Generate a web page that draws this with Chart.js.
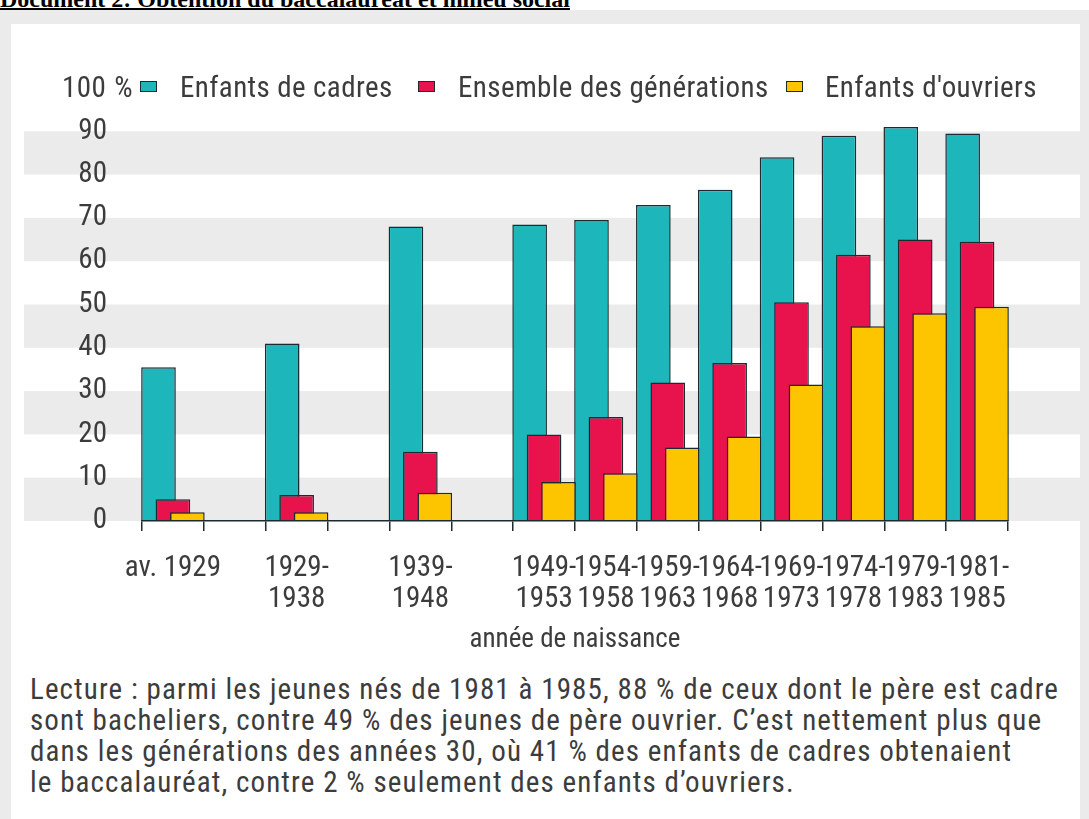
<!DOCTYPE html>
<html lang="fr">
<head>
<meta charset="utf-8">
<title>Obtention du baccalauréat et milieu social</title>
<script src="https://cdn.jsdelivr.net/npm/chart.js@4.4.1/dist/chart.umd.min.js"></script>
<style>
  html, body { margin: 0; padding: 0; background: #fff; }
  body { width: 1089px; height: 819px; position: relative; overflow: hidden;
         font-family: 'Liberation Sans Narrow', 'Roboto Condensed', 'DejaVu Sans Condensed', sans-serif; color: #3c3c3c; }
  #doc-title { position: absolute; left: 0; top: -13px; margin: 0; font: bold 24px/24px 'Liberation Serif', 'Times New Roman', serif;
               color: #000; text-decoration: underline; text-decoration-thickness: 2px; white-space: nowrap; }
  #frame { position: absolute; left: 0; top: 10px; width: 1089px; height: 809px; background: #ebebeb; }
  #panel { position: absolute; left: 11px; top: 24px; width: 1069px; height: 795px; background: #fff; }
  #chart-wrap { position: absolute; left: 0; top: 0; width: 1089px; height: 655px; }
  .lg { position: absolute; top: 70px; height: 34px; line-height: 34px; font-size: 29px; letter-spacing: 0.4px; white-space: nowrap; }
  .box { position: absolute; top: 81px; width: 15px; height: 9px; border: 1.5px solid #1d2b30; }
  #note { position: absolute; left: 30px; top: 674px; margin: 0; font-size: 29px; line-height: 31px;
          letter-spacing: 1.1px; white-space: nowrap; }
</style>
</head>
<body>
<p id="doc-title">Document 2: Obtention du baccalauréat et milieu social</p>
<div id="frame"></div>
<div id="panel"></div>
<div id="chart-wrap"><canvas id="chart"></canvas></div>
<div id="legend"></div>
<p id="note">Lecture : parmi les jeunes nés de 1981 à 1985, 88 % de ceux dont le père est cadre<br>sont bacheliers, contre 49 % des jeunes de père ouvrier. C’est nettement plus que<br>dans les générations des années 30, où 41 % des enfants de cadres obtenaient<br>le baccalauréat, contre 2 % seulement des enfants d’ouvriers.</p>
<script>
// data
const periods = ['av. 1929', '1929-1938', '1939-1948', '1949-1953', '1954-1958', '1959-1963',
                 '1964-1968', '1969-1973', '1974-1978', '1979-1983', '1981-1985'];
const cadres   = [35.5, 41, 68, 68.5, 69.5, 73, 76.5, 84, 89, 91, 89.5];
const ensemble = [5, 6, 16, 20, 24, 32, 36.5, 50.5, 61.5, 65, 64.5];
const ouvriers = [2, 2, 6.5, 9, 11, 17, 19.5, 31.5, 45, 48, 49.5];
// decades take two slots on the axis, five-year groups one
const slotSpan = [2, 2, 2, 1, 1, 1, 1, 1, 1, 1, 1];
const seriesNames = ['Enfants de cadres', 'Ensemble des générations', "Enfants d'ouvriers"];
const seriesColors = ['#1db6bb', '#e8134c', '#fdc500'];
const yMax = 100;
const yStep = 10;

const FONT = "'Liberation Sans Narrow', 'Roboto Condensed', 'DejaVu Sans Condensed', sans-serif";
const INK = '#3c3c3c';
const EDGE = '#1d2b30';

// spread the groups over the axis slots
const slotLabels = [];
const slotIndex = [];
periods.forEach((p, i) => {
  slotIndex.push(slotLabels.length);
  const cut = p.indexOf('-');
  slotLabels.push(cut > 0 ? [p.slice(0, cut + 1), p.slice(cut + 1)] : p);
  for (let k = 1; k < slotSpan[i]; k++) slotLabels.push('');
});
function toSlots(values) {
  const out = new Array(slotLabels.length).fill(null);
  values.forEach((v, i) => { out[slotIndex[i]] = v; });
  return out;
}

// legend on the header line, after the "100 %" label
const boxX = [140, 418, 786];
const textX = [180, 458, 825];
const legend = document.getElementById('legend');
let html = '<div class="lg" style="left:0;width:133px;text-align:right;word-spacing:1px">100 %</div>';
seriesNames.forEach((n, i) => {
  html += '<div class="box" style="left:' + boxX[i] + 'px;background:' + seriesColors[i] + '"></div>';
  html += '<div class="lg" style="left:' + textX[i] + 'px">' + n + '</div>';
});
legend.innerHTML = html;

// alternating grey bands behind the chart
const bands = {
  id: 'bands',
  beforeDraw(chart) {
    const {ctx, scales: {y}} = chart;
    ctx.save();
    ctx.fillStyle = '#ebebeb';
    for (let v = 0; v < yMax; v += 2 * yStep) {
      const top = y.getPixelForValue(v + yStep);
      const bottom = y.getPixelForValue(v);
      ctx.fillRect(24, top, 1080 - 24, bottom - top);
    }
    ctx.restore();
  }
};

// overlapping bars: later series drawn on top
const drawOrder = {
  id: 'drawOrder',
  beforeDatasetsDraw(chart) {
    chart.data.datasets.forEach((ds, i) => {
      if (chart.isDatasetVisible(i)) chart.getDatasetMeta(i).controller.draw();
    });
    return false;
  }
};

new Chart(document.getElementById('chart'), {
  type: 'bar',
  data: {
    labels: slotLabels,
    datasets: [cadres, ensemble, ouvriers].map((vals, i) => ({
      label: seriesNames[i],
      data: toSlots(vals),
      backgroundColor: seriesColors[i],
      borderColor: EDGE,
      borderWidth: 1.5,
      categoryPercentage: 0.7,
      barPercentage: 2.4
    }))
  },
  options: {
    responsive: true,
    maintainAspectRatio: false,
    animation: false,
    layout: { padding: { top: 88, right: 81, bottom: 0, left: 0 } },
    plugins: { legend: { display: false }, tooltip: { enabled: false } },
    scales: {
      x: {
        type: 'category',
        grid: { display: true, drawOnChartArea: false, drawTicks: true, tickLength: 10,
                tickColor: EDGE, lineWidth: 1.5 },
        border: { display: true, color: EDGE, width: 1.5, z: 1 },
        ticks: { autoSkip: false, maxRotation: 0, padding: 22, color: INK,
                 font: { family: FONT, size: 29, lineHeight: 31 / 29 } },
        title: { display: true, text: 'année de naissance', color: INK, padding: 0,
                 font: { family: FONT, size: 27, lineHeight: 30 / 27 } },
        afterFit(scale) { scale.height = 134; }
      },
      y: {
        min: 0,
        max: yMax,
        grid: { display: false, drawTicks: false },
        border: { display: false },
        ticks: { stepSize: yStep, padding: 35, color: INK,
                 font: { family: FONT, size: 29 },
                 callback: (v) => (v === yMax ? '' : v) },
        afterFit(scale) { scale.width = 142; }
      }
    }
  },
  plugins: [bands, drawOrder]
});
</script>
</body>
</html>
